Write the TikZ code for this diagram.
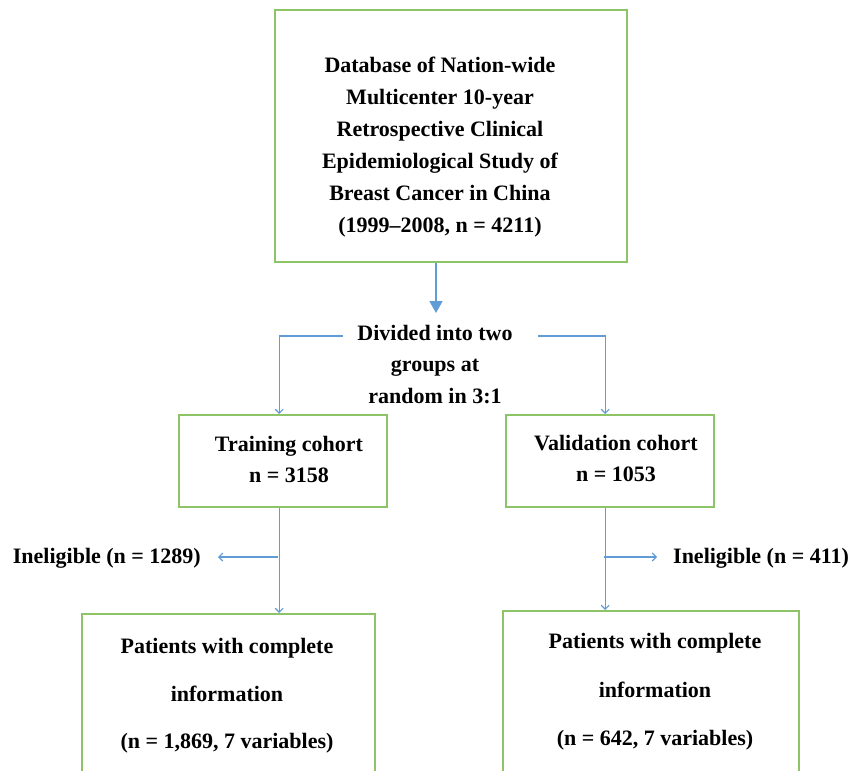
\documentclass[tikz,border=0pt]{standalone}
\usepackage{fontspec}
\setmainfont{Liberation Serif}
\usetikzlibrary{arrows.meta}
\definecolor{boxgreen}{RGB}{141,196,104}
\definecolor{arrowblue}{RGB}{96,156,214}
\begin{document}
\begin{tikzpicture}[x=1pt,y=-1pt,
  gbox/.style={draw=boxgreen, line width=2.4pt, inner sep=0pt, anchor=north west},
  txt/.style={align=center, inner sep=0pt, font=\bfseries\fontsize{22}{#1}\selectfont},
  txt/.default=31,
  thin/.style={draw=arrowblue, line width=1.1pt, -{Straight Barb[length=4pt,width=8pt]}},
  thick/.style={draw=arrowblue, line width=1.8pt, -{Triangle[length=12pt,width=13pt]}}]
\useasboundingbox (0,0) rectangle (849,771);
\clip (0,0) rectangle (849,771);
% boxes
\node[gbox, minimum width=352pt, minimum height=252pt] (top) at (274,9) {};
\node[gbox, minimum width=208pt, minimum height=92pt] (train) at (178,414) {};
\node[gbox, minimum width=208pt, minimum height=92pt] (valid) at (505,414) {};
\node[gbox, minimum width=293pt, minimum height=200pt] (patL) at (81,613) {};
\node[gbox, minimum width=296pt, minimum height=200pt] (patR) at (502,610) {};
% texts
\node[txt=32] (toptext) at (440,147.5) {Database of Nation-wide\\Multicenter 10-year\\Retrospective Clinical\\Epidemiological Study of\\Breast Cancer in China\\(1999--2008, n = 4211)};
\node[txt=31.5] (divtext) at (435,364.5) {Divided into two\\groups at\\random in 3:1};
\node[txt=31] (traintext) at (289,459) {Training cohort\\n = 3158};
\node[txt=31] (validtext) at (616,458.5) {Validation cohort\\n = 1053};
\node[txt=47.5] (patLtext) at (227,696) {Patients with complete\\information\\(n = 1,869, 7 variables)};
\node[txt=48.5] (patRtext) at (655,692) {Patients with complete\\information\\(n = 642, 7 variables)};
\node[txt, anchor=east] (inelL) at (201,558) {Ineligible (n = 1289)};
\node[txt, anchor=west] (inelR) at (673,558) {Ineligible (n = 411)};
% connectors
\coordinate (splitL) at (343,336);
\coordinate (splitR) at (538,336);
\coordinate (tipTop) at (436,313);
\coordinate (brL) at (278,557);
\coordinate (brR) at (604,557);
\draw[thick] (tipTop |- top.south) -- (tipTop);
\draw[thin] (splitL) -| ([xshift=-4pt]train.north);
\draw[thin] (splitR) -| ([xshift=-5pt]valid.north);
\draw[thin] ([xshift=-4pt]train.south) -- ([xshift=-4pt]train.south |- patL.north);
\draw[thin] ([xshift=-5pt]valid.south) -- ([xshift=-5pt]valid.south |- patR.north);
\draw[thin] (brL) -- ([xshift=17pt]inelL.east |- brL);
\draw[thin] (brR) -- ([xshift=-16pt]inelR.west |- brR);
\end{tikzpicture}
\end{document}
